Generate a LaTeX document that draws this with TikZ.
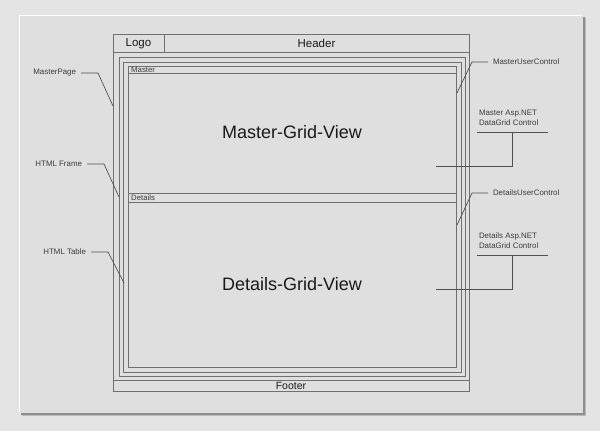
\documentclass[tikz,border=0pt]{standalone}
\usepackage{fontspec}
\setmainfont{Liberation Sans}
\begin{document}
\begin{tikzpicture}[x=1pt,y=-1pt,
  frame/.style={draw=linegray,line width=0.85pt},
  leader/.style={draw=leadgray,line width=0.7pt},
  lbl/.style={inner sep=0pt,outer xsep=5pt,font=\fontsize{7.9}{10}\selectfont,text=labgray},
  bar/.style={inner sep=0pt,font=\fontsize{7.8}{8}\selectfont,text=labgray,anchor=west},
  big/.style={inner sep=0pt,font=\fontsize{18}{20}\selectfont,text=black!90},
  head/.style={inner sep=0pt,font=\fontsize{11.5}{13}\selectfont,text=black!90}]
\definecolor{linegray}{HTML}{707070}
\definecolor{leadgray}{HTML}{505050}
\definecolor{labgray}{HTML}{3C3C3C}
\definecolor{bggray}{HTML}{E4E4E4}
\definecolor{cardgray}{HTML}{DFDFDF}
\definecolor{shadowgray}{HTML}{8E8E8E}
% background and card
\fill[bggray] (0,0) rectangle (600,431);
\useasboundingbox (0,0) rectangle (600,431);
\fill[shadowgray!60] (22,18) rectangle (586,416);
\fill[shadowgray] (21,17) rectangle (584.5,414.5);
\fill[cardgray] (19,15) rectangle (583,413);
\draw[white,line width=1pt] (19.5,412) -- (19.5,15.5) -- (582,15.5);
% outer MasterPage frame
\draw[frame] (113,34) rectangle (469,391);
\draw[frame] (113,52) -- (469,52);
\draw[frame] (164,34) -- (164,52);
\draw[frame] (113,380) -- (469,380);
\node[head] (logo) at (138.5,43.5) {Logo};
\node[head] (header) at (316.5,43.5) {Header};
\node[inner sep=0pt,font=\fontsize{10.5}{12}\selectfont,text=black!90] (footer) at (291,385.5) {Footer};
% HTML frame, HTML table, user controls
\draw[frame] (119,57) rectangle (465,376);
\draw[frame] (123,62) rectangle (461,372);
\draw[frame] (128,66) rectangle (456,367);
\draw[frame] (128,73) -- (456,73);
\draw[frame] (128,193) -- (456,193);
\draw[frame] (128,202) -- (456,202);
\node[bar] (masterbar) at (131,69.5) {Master};
\node[bar] (detailsbar) at (131,197.5) {Details};
\node[big] (mgv) at (292,132) {Master-Grid-View};
\node[big] (dgv) at (292,284.5) {Details-Grid-View};
% left labels
\node[lbl,anchor=east] (mp) at (81,73) {MasterPage};
\node[lbl,anchor=east] (hf) at (87,164) {HTML Frame};
\node[lbl,anchor=east] (ht) at (91,252) {HTML Table};
\coordinate (mpb) at (98,73);   \coordinate (mpt) at (113,106);
\coordinate (hfb) at (104,164); \coordinate (hft) at (119,197);
\coordinate (htb) at (108,252); \coordinate (htt) at (124,283);
\draw[leader] (mp.east) -- (mpb) -- (mpt);
\draw[leader] (hf.east) -- (hfb) -- (hft);
\draw[leader] (ht.east) -- (htb) -- (htt);
% right labels
\node[lbl,anchor=west] (muc) at (488,62) {MasterUserControl};
\node[lbl,anchor=west] (duc) at (488,193) {DetailsUserControl};
\coordinate (mucb) at (472,62);  \coordinate (muct) at (457,93);
\coordinate (ducb) at (472,193); \coordinate (duct) at (457,225);
\draw[leader] (muc.west) -- (mucb) -- (muct);
\draw[leader] (duc.west) -- (ducb) -- (duct);
\node[lbl,outer xsep=0pt,anchor=west,align=left] (mdg) at (479,117.5) {Master Asp.NET\\DataGrid Control};
\node[lbl,outer xsep=0pt,anchor=west,align=left] (ddg) at (479,240.5) {Details Asp.NET\\DataGrid Control};
\coordinate (mula) at (477,132); \coordinate (mulb) at (548,132);
\coordinate (mdn) at (512,132); \coordinate (mcorner) at (512,166); \coordinate (mgrid) at (436,166);
\coordinate (dula) at (477,255); \coordinate (dulb) at (548,255);
\coordinate (ddn) at (512,255); \coordinate (dcorner) at (512,289); \coordinate (dgrid) at (436,289);
\draw[leader] (mula) -- (mulb);
\draw[leader] (mdn) -- (mcorner) -- (mgrid);
\draw[leader] (dula) -- (dulb);
\draw[leader] (ddn) -- (dcorner) -- (dgrid);
\end{tikzpicture}
\end{document}
